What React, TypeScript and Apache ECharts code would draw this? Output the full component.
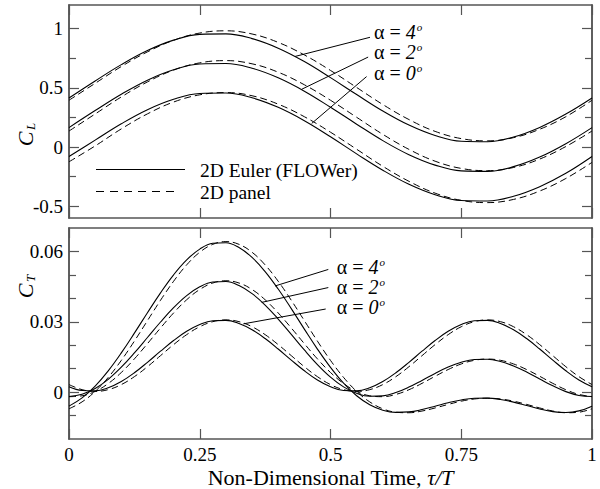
import React, { useEffect, useRef } from "react";
import * as echarts from "echarts";

// ---------- data ----------
const timeTop = [0, 0.05, 0.1, 0.15, 0.2, 0.25, 0.3, 0.35, 0.4, 0.45, 0.5, 0.55, 0.6, 0.65, 0.7, 0.75, 0.8, 0.85, 0.9, 0.95, 1];
const timeBottom = [0, 0.025, 0.05, 0.075, 0.1, 0.125, 0.15, 0.175, 0.2, 0.225, 0.25, 0.275, 0.3, 0.325, 0.35, 0.375, 0.4, 0.425, 0.45, 0.475, 0.5, 0.525, 0.55, 0.575, 0.6, 0.625, 0.65, 0.675, 0.7, 0.725, 0.75, 0.775, 0.8, 0.825, 0.85, 0.875, 0.9, 0.925, 0.95, 0.975, 1];

const clEuler4 = [0.414, 0.558, 0.696, 0.815, 0.903, 0.952, 0.956, 0.916, 0.835, 0.722, 0.586, 0.443, 0.304, 0.185, 0.097, 0.048, 0.044, 0.084, 0.165, 0.278, 0.414];
const clEuler2 = [0.164, 0.308, 0.446, 0.565, 0.653, 0.702, 0.706, 0.666, 0.585, 0.472, 0.336, 0.193, 0.054, -0.065, -0.153, -0.202, -0.206, -0.166, -0.085, 0.028, 0.164];
const clEuler0 = [-0.08, 0.058, 0.196, 0.315, 0.403, 0.452, 0.456, 0.416, 0.335, 0.222, 0.086, -0.058, -0.196, -0.315, -0.403, -0.452, -0.456, -0.416, -0.335, -0.222, -0.08];
const clPanel4 = [0.395, 0.538, 0.68, 0.804, 0.902, 0.963, 0.982, 0.955, 0.884, 0.778, 0.647, 0.503, 0.359, 0.232, 0.132, 0.071, 0.052, 0.079, 0.15, 0.256, 0.395];
const clPanel2 = [0.135, 0.279, 0.423, 0.55, 0.65, 0.711, 0.73, 0.703, 0.632, 0.526, 0.395, 0.251, 0.107, -0.02, -0.12, -0.181, -0.2, -0.173, -0.102, 0.004, 0.135];
const clPanel0 = [-0.125, 0.009, 0.153, 0.28, 0.38, 0.441, 0.46, 0.433, 0.362, 0.256, 0.125, -0.019, -0.163, -0.29, -0.39, -0.451, -0.47, -0.443, -0.372, -0.266, -0.13];

const ctEuler0 = [0.00228, 0.00067, 0.00052, 0.00184, 0.00451, 0.00825, 0.01271, 0.01745, 0.022, 0.02593, 0.02883, 0.03043, 0.03058, 0.02926, 0.02659, 0.02285, 0.01839, 0.01365, 0.0091, 0.00518, 0.00228, 0.00067, 0.00052, 0.00184, 0.00451, 0.00825, 0.01271, 0.01745, 0.022, 0.02593, 0.02883, 0.03043, 0.03058, 0.02926, 0.02659, 0.02285, 0.01839, 0.01365, 0.0091, 0.00518, 0.00228];
const ctEuler2 = [-0.00185, -0.00089, 0.00156, 0.00546, 0.01062, 0.0167, 0.02329, 0.0299, 0.03602, 0.04117, 0.04491, 0.04696, 0.04715, 0.04546, 0.04202, 0.03714, 0.03118, 0.02463, 0.01799, 0.01177, 0.00641, 0.00223, -0.00052, -0.00178, -0.0016, -0.0002, 0.00213, 0.005, 0.00798, 0.01069, 0.01275, 0.0139, 0.01401, 0.01306, 0.01116, 0.00856, 0.0056, 0.00267, 0.00021, -0.00141, -0.00185];
const ctEuler4 = [-0.00598, -0.00245, 0.0026, 0.00908, 0.01673, 0.02515, 0.03387, 0.04235, 0.05004, 0.05641, 0.06099, 0.06349, 0.06372, 0.06166, 0.05745, 0.05143, 0.04397, 0.03561, 0.02688, 0.01836, 0.01054, 0.00379, -0.00156, -0.0054, -0.00771, -0.00865, -0.00845, -0.00745, -0.00604, -0.00455, -0.00333, -0.00263, -0.00256, -0.00314, -0.00427, -0.00573, -0.00719, -0.00831, -0.00868, -0.008, -0.00598];
const ctPanel0 = [0.00321, 0.00105, 0.0003, 0.00105, 0.00321, 0.00659, 0.01084, 0.01555, 0.02026, 0.02451, 0.02789, 0.03005, 0.0308, 0.03005, 0.02789, 0.02451, 0.02026, 0.01555, 0.01084, 0.00659, 0.00321, 0.00105, 0.0003, 0.00105, 0.00321, 0.00659, 0.01084, 0.01555, 0.02026, 0.02451, 0.02789, 0.03005, 0.0308, 0.03005, 0.02789, 0.02451, 0.02026, 0.01555, 0.01084, 0.00659, 0.00321];
const ctPanel2 = [-0.00195, -0.00156, 0.0003, 0.00366, 0.00837, 0.01417, 0.02066, 0.02736, 0.03377, 0.03939, 0.04377, 0.04654, 0.0475, 0.04654, 0.04377, 0.03939, 0.03377, 0.02736, 0.02066, 0.01417, 0.00837, 0.00366, 0.0003, -0.00156, -0.00195, -0.00099, 0.00102, 0.00374, 0.00675, 0.00963, 0.01201, 0.01356, 0.0141, 0.01356, 0.01201, 0.00963, 0.00675, 0.00374, 0.00102, -0.00099, -0.00195];
const ctPanel4 = [-0.00711, -0.00417, 0.0003, 0.00627, 0.01353, 0.02175, 0.03048, 0.03917, 0.04728, 0.05427, 0.05965, 0.06303, 0.0642, 0.06303, 0.05965, 0.05427, 0.04728, 0.03917, 0.03048, 0.02175, 0.01353, 0.00627, 0.0003, -0.00417, -0.00711, -0.00857, -0.0088, -0.00807, -0.00676, -0.00525, -0.00387, -0.00293, -0.0026, -0.00293, -0.00387, -0.00525, -0.00676, -0.00807, -0.0088, -0.00857, -0.00711];

const clMajorTicks = [-0.5, 0, 0.5, 1];
const clMinorTicks = [-0.25, 0.25, 0.75];
const ctMajorTicks = [0, 0.03, 0.06];
const ctMinorTicks = [-0.01, 0.01, 0.02, 0.04, 0.05];

const alphaValues = ["4", "2", "0"];
// leader lines (data coords): [from, to]
const topLeaders = [
  [[0.5755, 0.927], [0.432, 0.765]],
  [[0.572, 0.76], [0.445, 0.488]],
  [[0.569, 0.595], [0.464, 0.199]],
];
const topLabelAnchors = [[0.5832, 0.973], [0.5832, 0.801], [0.5832, 0.629]];
const bottomLeaders = [
  [[0.4958, 0.05232], [0.3939, 0.04527]],
  [[0.4958, 0.0446], [0.3685, 0.03827]],
  [[0.4908, 0.03544], [0.3333, 0.02911]],
];
const bottomLabelAnchors = [[0.5119, 0.05355], [0.5119, 0.04494], [0.5119, 0.03633]];

const legendNames = ["2D Euler (FLOWer)", "2D panel"];

// ---------- styling ----------
const FONT = "'Liberation Serif', 'Times New Roman', Times, serif";
const FRAME = "#555";

function pairs(ts: number[], vs: number[]) {
  return ts.map((t, i) => [t, vs[i]]);
}

export default function App() {
  const ref = useRef<HTMLDivElement>(null);
  useEffect(() => {
    if (!ref.current) return;
    const chart = echarts.init(ref.current, undefined, { renderer: "svg" });

    const xAx = (gridIndex: number, position: "top" | "bottom", labels: boolean, name?: string) => ({
      type: "value",
      gridIndex,
      position,
      min: 0,
      max: 1,
      interval: 0.25,
      axisLine: { show: true, onZero: false, lineStyle: { color: FRAME, width: 1.5 } },
      axisTick: { show: true, inside: true, length: 10, lineStyle: { color: FRAME, width: 1.2 } },
      axisLabel: {
        show: labels,
        margin: 6,
        fontFamily: FONT,
        fontSize: 19,
        color: "#000",
        formatter: (v: number) => String(v),
      },
      splitLine: { show: false },
      name: name,
      nameLocation: "middle",
      nameGap: 27,
      nameTextStyle: {
        fontFamily: FONT,
        fontSize: 22,
        color: "#000",
        rich: {
          n: { fontFamily: FONT, fontSize: 22, color: "#000" },
          i: { fontFamily: FONT, fontSize: 22, fontStyle: "italic", color: "#000" },
        },
      },
    });

    const yAx = (
      gridIndex: number,
      position: "left" | "right",
      min: number,
      max: number,
      ticks: number[],
      len: number,
      labels: boolean
    ) => ({
      type: "value",
      gridIndex,
      position,
      min,
      max,
      axisLine: { show: true, onZero: false, lineStyle: { color: FRAME, width: 1.5 } },
      axisTick: { show: true, inside: true, length: len, customValues: ticks, lineStyle: { color: FRAME, width: 1.2 } },
      axisLabel: {
        show: labels,
        customValues: ticks,
        margin: 6,
        fontFamily: FONT,
        fontSize: 19,
        color: "#000",
        formatter: (v: number) => String(Math.round(v * 1000) / 1000),
      },
      splitLine: { show: false },
    });

    const solid = { color: "#000", width: 1.1, type: "solid" };
    const dashed = { color: "#000", width: 1, type: [7, 4] };

    const leaderMark = (seg: number[][]) => ({
      silent: true,
      symbol: ["none", "none"],
      label: { show: false },
      lineStyle: { color: "#000", width: 1, type: "solid" },
      data: [[{ coord: seg[0] }, { coord: seg[1] }]],
    });

    const line = (name: string, x: number, y: number, ts: number[], vs: number[], style: any, mark?: any) => ({
      type: "line",
      name,
      xAxisIndex: x,
      yAxisIndex: y,
      data: pairs(ts, vs),
      showSymbol: false,
      symbol: "none",
      smooth: 0.4,
      lineStyle: style,
      markLine: mark,
    });

    const option: any = {
      animation: false,
      backgroundColor: "#fff",
      textStyle: { fontFamily: FONT },
      grid: [
        { left: 69, right: 8, top: 5, height: 213 },
        { left: 69, right: 8, top: 228, height: 212 },
      ],
      xAxis: [
        xAx(0, "bottom", false),
        xAx(0, "top", false),
        xAx(1, "bottom", true, "{n|Non-Dimensional Time, }{i|τ/T}"),
        xAx(1, "top", false),
      ],
      yAxis: [
        yAx(0, "left", -0.6, 1.2, clMajorTicks, 10, true),
        yAx(0, "left", -0.6, 1.2, clMinorTicks, 7, false),
        yAx(0, "right", -0.6, 1.2, clMajorTicks, 10, false),
        yAx(0, "right", -0.6, 1.2, clMinorTicks, 7, false),
        yAx(1, "left", -0.02, 0.07, ctMajorTicks, 10, true),
        yAx(1, "left", -0.02, 0.07, ctMinorTicks, 7, false),
        yAx(1, "right", -0.02, 0.07, ctMajorTicks, 10, false),
        yAx(1, "right", -0.02, 0.07, ctMinorTicks, 7, false),
      ],
      series: [
        line(legendNames[0], 0, 0, timeTop, clEuler4, solid, leaderMark(topLeaders[0])),
        line(legendNames[0], 0, 0, timeTop, clEuler2, solid, leaderMark(topLeaders[1])),
        line(legendNames[0], 0, 0, timeTop, clEuler0, solid, leaderMark(topLeaders[2])),
        line(legendNames[1], 0, 0, timeTop, clPanel4, dashed),
        line(legendNames[1], 0, 0, timeTop, clPanel2, dashed),
        line(legendNames[1], 0, 0, timeTop, clPanel0, dashed),
        line(legendNames[0], 2, 4, timeBottom, ctEuler4, solid, leaderMark(bottomLeaders[0])),
        line(legendNames[0], 2, 4, timeBottom, ctEuler2, solid, leaderMark(bottomLeaders[1])),
        line(legendNames[0], 2, 4, timeBottom, ctEuler0, solid, leaderMark(bottomLeaders[2])),
        line(legendNames[1], 2, 4, timeBottom, ctPanel4, dashed),
        line(legendNames[1], 2, 4, timeBottom, ctPanel2, dashed),
        line(legendNames[1], 2, 4, timeBottom, ctPanel0, dashed),
      ],
    };
    chart.setOption(option);

    const alphaText = (gridIndex: number, anchor: number[], val: string) => {
      const p = chart.convertToPixel({ gridIndex }, anchor) as number[];
      const main = new echarts.graphic.Text({
        style: { text: `α = ${val}`, fontFamily: FONT, fontSize: 20 },
      });
      const w = main.getBoundingRect().width;
      return {
        type: "group",
        x: p[0],
        y: p[1],
        children: [
          {
            type: "text",
            x: 0,
            y: 0,
            style: {
              text: `{a|α = }{n|${val}}`,
              rich: {
                a: { fontFamily: FONT, fontSize: 20, fill: "#000", lineHeight: 17 },
                n: { fontFamily: FONT, fontSize: 20, fontStyle: "italic", fill: "#000", lineHeight: 17 },
              },
              fontFamily: FONT,
              fontSize: 20,
              lineHeight: 17,
              fill: "#000",
              align: "left",
              verticalAlign: "middle",
            },
          },
          {
            type: "text",
            x: w + 1,
            y: -5,
            style: {
              text: "o",
              fontFamily: FONT,
              fontSize: 11,
              fontStyle: "italic",
              fill: "#000",
              align: "left",
              verticalAlign: "middle",
            },
          },
        ],
      };
    };

    const yName = (x: number, y: number, sub: string) => ({
      type: "group",
      x,
      y,
      rotation: Math.PI / 2,
      children: [
        {
          type: "text",
          x: -4,
          y: 0,
          style: {
            text: "C",
            fontFamily: FONT,
            fontSize: 22,
            fontStyle: "italic",
            fill: "#000",
            align: "center",
            verticalAlign: "middle",
          },
        },
        {
          type: "text",
          x: 5,
          y: 5,
          style: {
            text: sub,
            fontFamily: FONT,
            fontSize: 13,
            fontStyle: "italic",
            fill: "#000",
            align: "left",
            verticalAlign: "middle",
          },
        },
      ],
    });

    const graphic: any[] = [
      ...topLabelAnchors.map((a, i) => alphaText(0, a, alphaValues[i])),
      ...bottomLabelAnchors.map((a, i) => alphaText(1, a, alphaValues[i])),
      yName(25, 135, "L"),
      yName(25, 287, "T"),
      { type: "line", shape: { x1: 96, y1: 169.5, x2: 185, y2: 169.5 }, style: { stroke: "#000", lineWidth: 1 } },
      { type: "line", shape: { x1: 96, y1: 191.5, x2: 180, y2: 191.5 }, style: { stroke: "#000", lineWidth: 1, lineDash: [8, 6] } },
      { type: "text", x: 200, y: 170, style: { text: legendNames[0], fontFamily: FONT, fontSize: 19.5, fill: "#000", verticalAlign: "middle" } },
      { type: "text", x: 200, y: 192, style: { text: legendNames[1], fontFamily: FONT, fontSize: 19.5, fill: "#000", verticalAlign: "middle" } },
    ];
    chart.setOption({ graphic });

    return () => chart.dispose();
  }, []);

  return <div ref={ref} style={{ position: "absolute", left: 0, top: 0, width: 600, height: 489, background: "#fff" }} />;
}
